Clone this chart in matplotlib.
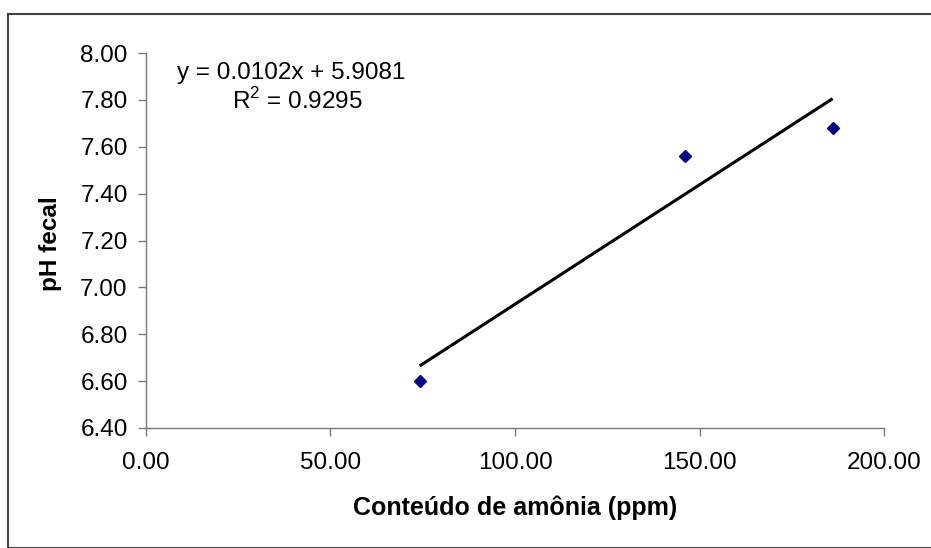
import matplotlib
matplotlib.use("Agg")
import matplotlib.pyplot as plt
from matplotlib.patches import Rectangle
from matplotlib.ticker import FormatStrFormatter
import numpy as np

# data
amonia = [74.2, 145.9, 186.0]
ph_fecal = [6.60, 7.56, 7.68]
slope = 0.0102
intercept = 5.9081
eq_text = "y = 0.0102x + 5.9081"
r2_text = "R$^2$ = 0.9295"
x_ticks = [0, 50, 100, 150, 200]
y_ticks = [6.40, 6.60, 6.80, 7.00, 7.20, 7.40, 7.60, 7.80, 8.00]

plt.rcParams['font.family'] = ['Liberation Sans', 'DejaVu Sans']
plt.rcParams['mathtext.fontset'] = 'custom'
plt.rcParams['mathtext.rm'] = 'Liberation Sans'

W, H = 931, 548
fig = plt.figure(figsize=(W / 100, H / 100), dpi=100)

# outer chart border
fig.patches.append(Rectangle((8 / W, 0), 1.0, 1 - 14 / H, transform=fig.transFigure,
                             fill=False, edgecolor='#404040', linewidth=1.5))

ax = fig.add_axes([145.7 / W, 120 / H, (884.3 - 145.7) / W, (428 - 53) / H])

# trendline
xs = np.array([min(amonia), max(amonia)])
ax.plot(xs, slope * xs + intercept, color='black', linewidth=2.2,
        solid_capstyle='butt', zorder=2)
ax.plot(amonia, ph_fecal, linestyle='', marker='D', markersize=6.5,
        color='#000080', zorder=3)

ax.set_xlim(0, 200)
ax.set_ylim(6.4, 8.0)
ax.set_xticks(x_ticks)
ax.set_yticks(y_ticks)
ax.xaxis.set_major_formatter(FormatStrFormatter('%.2f'))
ax.yaxis.set_major_formatter(FormatStrFormatter('%.2f'))

for s in ['top', 'right']:
    ax.spines[s].set_visible(False)
for s in ['left', 'bottom']:
    ax.spines[s].set_color('#7a7a7a')
    ax.spines[s].set_linewidth(1.0)

ax.tick_params(axis='both', direction='out', length=6, width=1.0,
               color='#7a7a7a', labelsize=17.5, labelcolor='black')
ax.tick_params(axis='y', pad=7)
ax.tick_params(axis='x', pad=11)

fig.text(515 / W, 1 - 515 / H, "Conteúdo de amônia (ppm)", ha='center',
         va='baseline', fontsize=18, fontweight='bold')
fig.text(50 / W, 1 - 243.5 / H, "pH fecal", ha='center', va='center',
         rotation=90, fontsize=17.5, fontweight='bold')

fig.text(291.5 / W, 1 - 79 / H, eq_text, ha='center', va='baseline', fontsize=17.5)
fig.text(297.5 / W, 1 - 109 / H, r2_text, ha='center', va='baseline', fontsize=17.5)

fig.savefig("out.png", dpi=100)
